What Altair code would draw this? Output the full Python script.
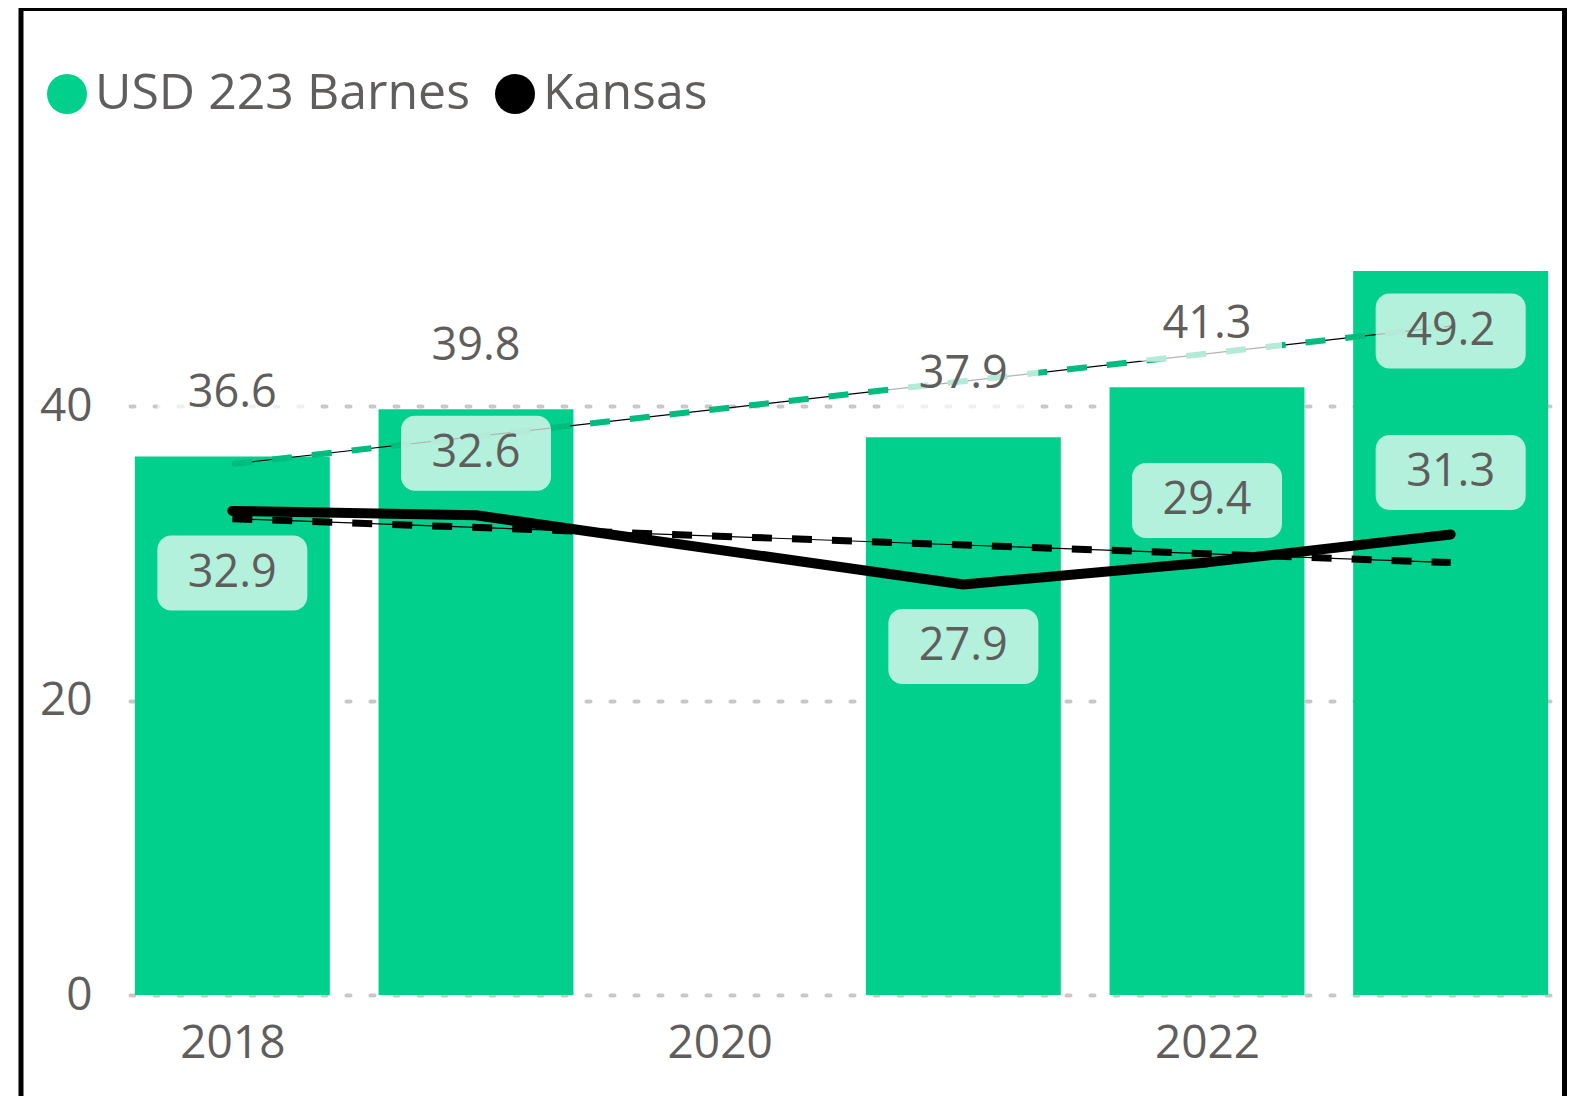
import json
import altair as alt
import pandas as pd

# ---- data ----
years = [2018, 2019, 2021, 2022, 2023]
barnes = [36.6, 39.8, 37.9, 41.3, 49.2]
kansas = [32.9, 32.6, 27.9, 29.4, 31.3]
series_names = ["USD 223 Barnes", "Kansas"]
x_ticks = [2018, 2020, 2022]
y_ticks = [0, 20, 40]
kansas_below_years = [2018, 2021]

GREEN = "#00D08C"
GREEN_DARK = "#00BC7E"
TEXT = "#605E5C"
FONT = "Open Sans"
WEIGHT = "normal"

rows = [{"year": y, "series": series_names[0], "value": v} for y, v in zip(years, barnes)]
rows += [{"year": y, "series": series_names[1], "value": v} for y, v in zip(years, kansas)]
df = pd.DataFrame(rows)

W, H = 1423, 824
x_scale = alt.Scale(domain=[2017.58, 2023.42], nice=False, zero=False)
y_scale = alt.Scale(domain=[0, 56], nice=False)

x_axis = alt.Axis(values=x_ticks, format="d", grid=False, domain=False, ticks=False,
                  labelFontSize=46, labelColor=TEXT, labelFont=FONT, labelFontWeight=WEIGHT,
                  labelPadding=26, title=None, labelFlush=False)
y_axis = alt.Axis(values=y_ticks, grid=True, gridDash=[4, 20], gridCap="round", gridWidth=4,
                  gridColor="#C8C8C8", domain=False, ticks=False, labelFontSize=46,
                  labelColor=TEXT, labelFont=FONT, labelFontWeight=WEIGHT, labelPadding=38,
                  title=None)

X = alt.X("year:Q", scale=x_scale, axis=x_axis)
Y = alt.Y("value:Q", scale=y_scale, axis=y_axis)

base = alt.Chart(df)
is_barnes = alt.datum.series == series_names[0]
is_kansas = alt.datum.series == series_names[1]

border = alt.Chart(pd.DataFrame({"a": [0]})).mark_rect(
    filled=False, stroke="black", strokeWidth=5
).encode(x=alt.value(-109), x2=alt.value(1434.5), y=alt.value(-162.5), y2=alt.value(H + 300))

bars = base.transform_filter(is_barnes).transform_calculate(
    x0="datum.year - 0.4", x1="datum.year + 0.4", zero="0"
).mark_bar().encode(
    x=alt.X("x0:Q", scale=x_scale, axis=x_axis),
    x2="x1:Q",
    y=Y,
    y2="zero:Q",
    color=alt.Color(
        "series:N",
        scale=alt.Scale(domain=series_names, range=[GREEN, "#000000"]),
        legend=alt.Legend(
            title=None, orient="none", legendX=-88, legendY=-102, direction="horizontal",
            symbolType="circle", symbolSize=1600, symbolStrokeWidth=0, symbolOpacity=1,
            labelFontSize=50, labelFont=FONT, labelFontWeight=WEIGHT, labelColor=TEXT,
            labelOffset=3, columnPadding=20, padding=0, labelLimit=0,
        ),
    ),
)

trend = base.transform_regression("year", "value", groupby=["series"], extent=[2018, 2023])
trend_thin = trend.mark_line(color="black", strokeWidth=1.2).encode(x=X, y=Y, detail="series:N")
trend_green = trend.transform_filter(is_barnes).mark_line(
    color=GREEN_DARK, strokeWidth=6, strokeDash=[20, 20]).encode(x=X, y=Y)
trend_black = trend.transform_filter(is_kansas).mark_line(
    color="black", strokeWidth=7, strokeDash=[20, 20]).encode(x=X, y=Y)

kline = base.transform_filter(is_kansas).mark_line(
    color="black", strokeWidth=10, strokeCap="round", strokeJoin="round"
).encode(x=X, y=Y)


def label_layers(filter_expr, dy):
    src = base.transform_filter(filter_expr)
    box = src.mark_rect(
        fill="white", fillOpacity=0.7, cornerRadius=14,
        xOffset=-75, x2Offset=75, yOffset=dy - 37.5, y2Offset=dy + 37.5,
    ).encode(x=X, x2="year:Q", y=Y, y2="value:Q")
    txt = src.mark_text(
        dy=dy, fontSize=45, font=FONT, fontWeight=WEIGHT, color=TEXT,
        baseline="middle", align="center"
    ).encode(x=X, y=Y, text=alt.Text("value:Q", format=".1f"))
    return [box, txt]


below_expr = f"indexof({json.dumps(kansas_below_years)}, datum.year) >= 0"
labels = []
labels += label_layers(f"datum.series == '{series_names[0]}' && datum.value < 45", -63)
labels += label_layers(f"datum.series == '{series_names[0]}' && datum.value >= 45", 60)
labels += label_layers(f"datum.series == '{series_names[1]}' && {below_expr}", 62)
labels += label_layers(f"datum.series == '{series_names[1]}' && !({below_expr})", -62)

chart = alt.layer(
    border, bars, trend_thin, trend_green, trend_black, kline, *labels
).properties(
    width=W, height=H,
    autosize=alt.AutoSizeParams(type="none"),
    padding={"left": 122, "top": 163, "right": 15, "bottom": 101},
    background="white",
).configure_view(stroke=None)

chart.save("out.html", embed_options={"renderer": "svg", "actions": False})
